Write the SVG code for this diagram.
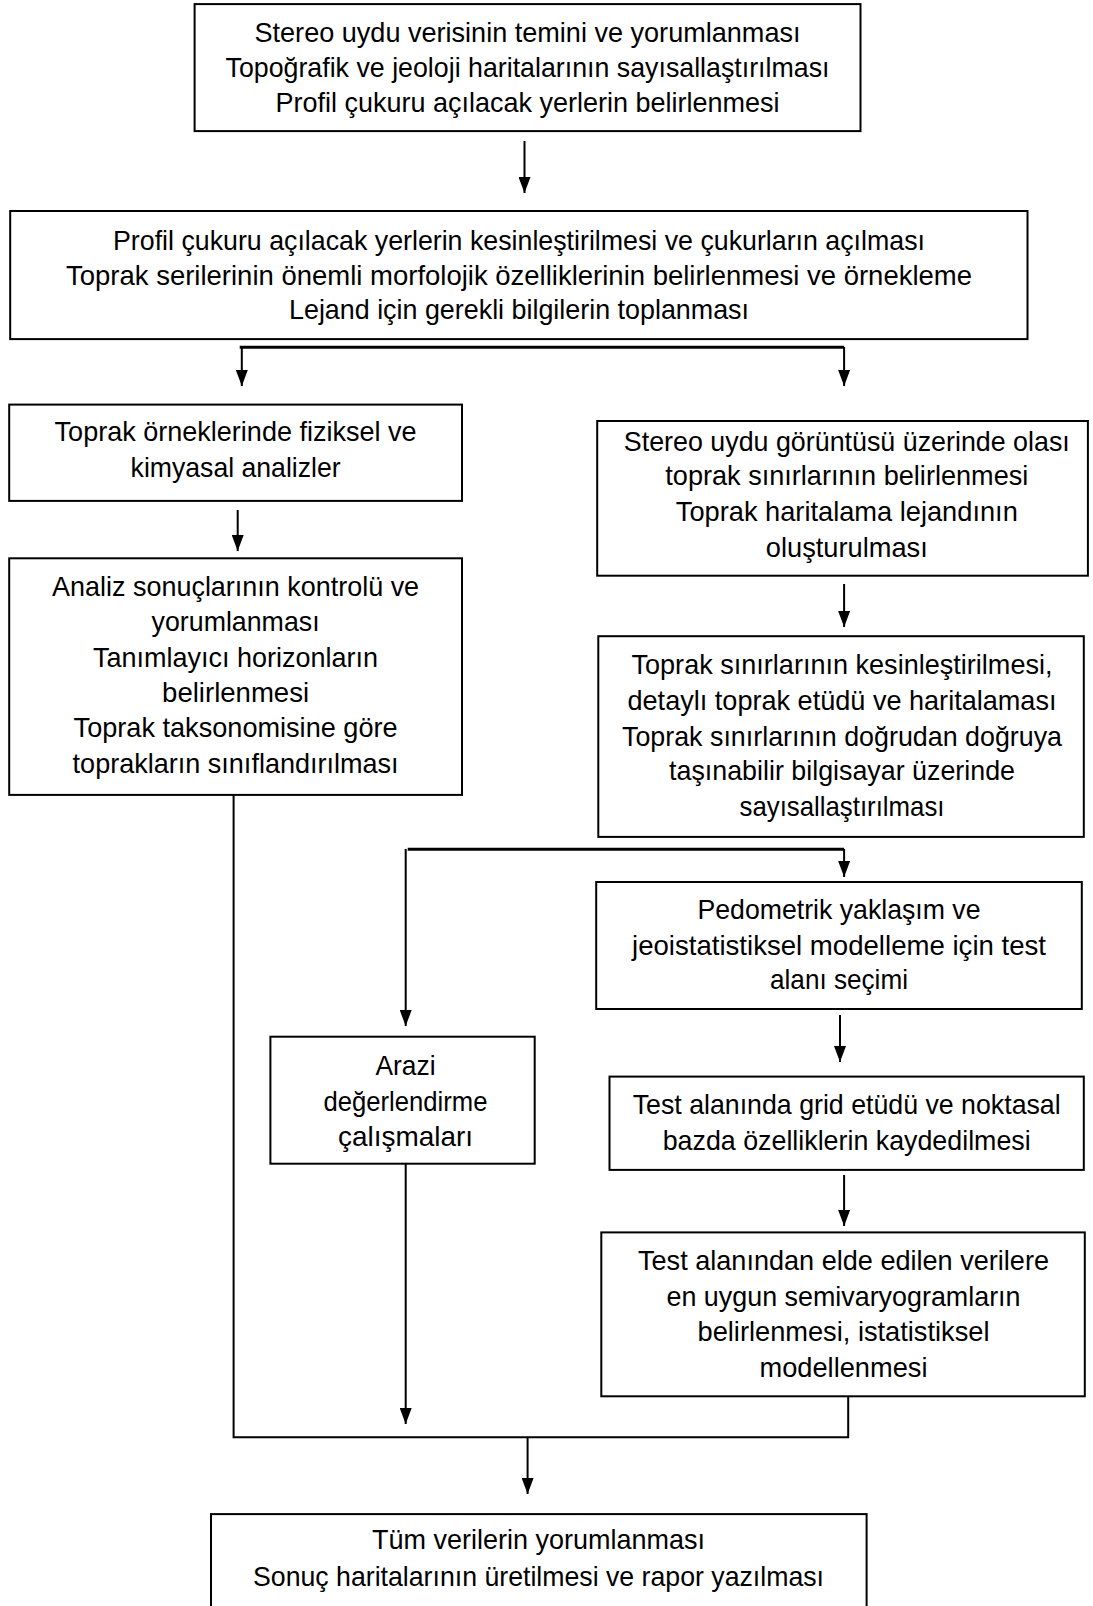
<svg xmlns="http://www.w3.org/2000/svg" width="1093" height="1606" viewBox="0 0 1093 1606">
<style>
.box{fill:#fff;stroke:#000;stroke-width:2}
.t{font-family:"Liberation Sans",Arial,sans-serif;font-size:28px;fill:#000;text-anchor:middle}
.c{fill:none;stroke:#000;stroke-width:2}
.cb{fill:none;stroke:#000;stroke-width:3}
</style>
<defs>
<marker id="ah" markerUnits="userSpaceOnUse" markerWidth="16" markerHeight="12" refX="16" refY="6" orient="auto">
<path d="M0,0 L16,6 L0,12 z" fill="#000"/>
</marker>
</defs>
<rect width="1093" height="1606" fill="#fff"/>
<g id="connectors">
<line class="c" x1="524.5" y1="141" x2="524.5" y2="193" marker-end="url(#ah)"/>
<polyline class="cb" points="239.7,347.3 844.1,347.3"/>
<line class="c" x1="241.8" y1="347" x2="241.8" y2="386" marker-end="url(#ah)"/>
<line class="c" x1="844.1" y1="347" x2="844.1" y2="386" marker-end="url(#ah)"/>
<line class="c" x1="237.7" y1="510" x2="237.7" y2="551" marker-end="url(#ah)"/>
<line class="c" x1="844.1" y1="584" x2="844.1" y2="627" marker-end="url(#ah)"/>
<polyline class="cb" points="407.7,849.2 844.1,849.2"/>
<line class="c" x1="844.1" y1="849" x2="844.1" y2="877" marker-end="url(#ah)"/>
<line class="c" x1="405.7" y1="849" x2="405.7" y2="1026" marker-end="url(#ah)"/>
<line class="c" x1="840" y1="1015" x2="840" y2="1062" marker-end="url(#ah)"/>
<line class="c" x1="844.1" y1="1175" x2="844.1" y2="1226" marker-end="url(#ah)"/>
<line class="c" x1="405.7" y1="1164" x2="405.7" y2="1424" marker-end="url(#ah)"/>
<polyline class="c" points="233.6,795 233.6,1437.2 848.2,1437.2 848.2,1396.3"/>
<line class="c" x1="527.6" y1="1437" x2="527.6" y2="1494" marker-end="url(#ah)"/>
</g>
<g id="n1">
<rect class="box" x="194.6" y="4.1" width="665.9" height="127"/>
<text class="t" x="527.5" y="41.8" textLength="546" lengthAdjust="spacingAndGlyphs">Stereo uydu verisinin temini ve yorumlanması</text>
<text class="t" x="527.5" y="76.6" textLength="604" lengthAdjust="spacingAndGlyphs">Topoğrafik ve jeoloji haritalarının sayısallaştırılması</text>
<text class="t" x="527.5" y="111.5" textLength="504" lengthAdjust="spacingAndGlyphs">Profil çukuru açılacak yerlerin belirlenmesi</text>
</g>
<g id="n2">
<rect class="box" x="10.2" y="211" width="1017.3" height="128.1"/>
<text class="t" x="519" y="249.8" textLength="812" lengthAdjust="spacingAndGlyphs">Profil çukuru açılacak yerlerin kesinleştirilmesi ve çukurların açılması</text>
<text class="t" x="519" y="284.6" textLength="906" lengthAdjust="spacingAndGlyphs">Toprak serilerinin önemli morfolojik özelliklerinin belirlenmesi ve örnekleme</text>
<text class="t" x="519" y="319.4" textLength="460" lengthAdjust="spacingAndGlyphs">Lejand için gerekli bilgilerin toplanması</text>
</g>
<g id="n3">
<rect class="box" x="9.2" y="404.6" width="452.8" height="96.3"/>
<text class="t" x="235.6" y="441.3" textLength="362" lengthAdjust="spacingAndGlyphs">Toprak örneklerinde fiziksel ve</text>
<text class="t" x="235.6" y="477.2" textLength="210" lengthAdjust="spacingAndGlyphs">kimyasal analizler</text>
</g>
<g id="n4">
<rect class="box" x="9.2" y="558.3" width="452.8" height="236.6"/>
<text class="t" x="235.6" y="596" textLength="367" lengthAdjust="spacingAndGlyphs">Analiz sonuçlarının kontrolü ve</text>
<text class="t" x="235.6" y="630.8" textLength="168" lengthAdjust="spacingAndGlyphs">yorumlanması</text>
<text class="t" x="235.6" y="666.7" textLength="285" lengthAdjust="spacingAndGlyphs">Tanımlayıcı horizonların</text>
<text class="t" x="235.6" y="701.5" textLength="147" lengthAdjust="spacingAndGlyphs">belirlenmesi</text>
<text class="t" x="235.6" y="737.4" textLength="324" lengthAdjust="spacingAndGlyphs">Toprak taksonomisine göre</text>
<text class="t" x="235.6" y="773.2" textLength="326" lengthAdjust="spacingAndGlyphs">toprakların sınıflandırılması</text>
</g>
<g id="n5">
<rect class="box" x="597.2" y="421" width="490.7" height="154.7"/>
<text class="t" x="846.8" y="450.5" textLength="446" lengthAdjust="spacingAndGlyphs">Stereo uydu görüntüsü üzerinde olası</text>
<text class="t" x="846.8" y="485.4" textLength="363" lengthAdjust="spacingAndGlyphs">toprak sınırlarının belirlenmesi</text>
<text class="t" x="846.8" y="521.2" textLength="342" lengthAdjust="spacingAndGlyphs">Toprak haritalama lejandının</text>
<text class="t" x="846.8" y="557.1" textLength="162" lengthAdjust="spacingAndGlyphs">oluşturulması</text>
</g>
<g id="n6">
<rect class="box" x="598.3" y="636.2" width="485.5" height="200.7"/>
<text class="t" x="842" y="673.9" textLength="421" lengthAdjust="spacingAndGlyphs">Toprak sınırlarının kesinleştirilmesi,</text>
<text class="t" x="842" y="709.7" textLength="429" lengthAdjust="spacingAndGlyphs">detaylı toprak etüdü ve haritalaması</text>
<text class="t" x="842" y="745.6" textLength="440" lengthAdjust="spacingAndGlyphs">Toprak sınırlarının doğrudan doğruya</text>
<text class="t" x="842" y="780.4" textLength="346" lengthAdjust="spacingAndGlyphs">taşınabilir bilgisayar üzerinde</text>
<text class="t" x="842" y="816.3" textLength="205" lengthAdjust="spacingAndGlyphs">sayısallaştırılması</text>
</g>
<g id="n7">
<rect class="box" x="596.2" y="882" width="485.6" height="127"/>
<text class="t" x="839" y="918.7" textLength="283" lengthAdjust="spacingAndGlyphs">Pedometrik yaklaşım ve</text>
<text class="t" x="839" y="954.5" textLength="414" lengthAdjust="spacingAndGlyphs">jeoistatistiksel modelleme için test</text>
<text class="t" x="839" y="989.4" textLength="138" lengthAdjust="spacingAndGlyphs">alanı seçimi</text>
</g>
<g id="n8">
<rect class="box" x="270.4" y="1036.7" width="264.3" height="127"/>
<text class="t" x="405.5" y="1075.4" textLength="60" lengthAdjust="spacingAndGlyphs">Arazi</text>
<text class="t" x="405.5" y="1111.2" textLength="164" lengthAdjust="spacingAndGlyphs">değerlendirme</text>
<text class="t" x="405.5" y="1146.1" textLength="135" lengthAdjust="spacingAndGlyphs">çalışmaları</text>
</g>
<g id="n9">
<rect class="box" x="609.5" y="1076.6" width="474.3" height="93.3"/>
<text class="t" x="846.7" y="1114.4" textLength="428" lengthAdjust="spacingAndGlyphs">Test alanında grid etüdü ve noktasal</text>
<text class="t" x="846.7" y="1150.2" textLength="368" lengthAdjust="spacingAndGlyphs">bazda özelliklerin kaydedilmesi</text>
</g>
<g id="n10">
<rect class="box" x="601.3" y="1232.4" width="483.5" height="163.9"/>
<text class="t" x="843.5" y="1270.1" textLength="411" lengthAdjust="spacingAndGlyphs">Test alanından elde edilen verilere</text>
<text class="t" x="843.5" y="1305.9" textLength="354" lengthAdjust="spacingAndGlyphs">en uygun semivaryogramların</text>
<text class="t" x="843.5" y="1340.7" textLength="292" lengthAdjust="spacingAndGlyphs">belirlenmesi, istatistiksel</text>
<text class="t" x="843.5" y="1376.6" textLength="168" lengthAdjust="spacingAndGlyphs">modellenmesi</text>
</g>
<g id="n11">
<rect class="box" x="211" y="1514.1" width="655.6" height="100"/>
<text class="t" x="538.5" y="1548.7" textLength="333" lengthAdjust="spacingAndGlyphs">Tüm verilerin yorumlanması</text>
<text class="t" x="538.5" y="1585.5" textLength="571" lengthAdjust="spacingAndGlyphs">Sonuç haritalarının üretilmesi ve rapor yazılması</text>
</g>
</svg>
